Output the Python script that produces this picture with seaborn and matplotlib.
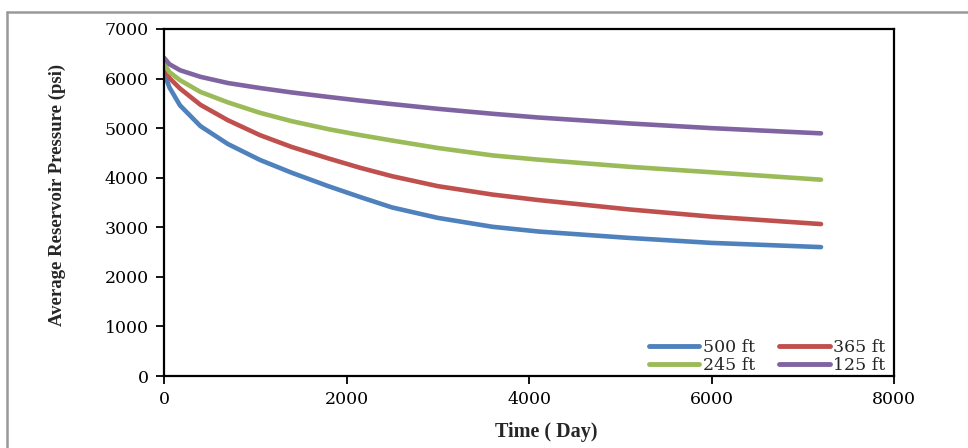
import matplotlib
matplotlib.use("Agg")
import matplotlib.pyplot as plt
from matplotlib.lines import Line2D
import seaborn as sns
import pandas as pd

days = [0, 60, 175, 400, 700, 1050, 1400, 1800, 2150, 2500, 3000, 3600, 4100, 5100, 6000, 7200]
p500 = [6120, 5820, 5460, 5040, 4680, 4360, 4100, 3830, 3610, 3400, 3190, 3010, 2915, 2785, 2685, 2600]
p365 = [6230, 6010, 5800, 5470, 5160, 4860, 4620, 4390, 4200, 4030, 3830, 3660, 3550, 3360, 3215, 3065]
p245 = [6300, 6130, 5968, 5730, 5520, 5310, 5140, 4980, 4860, 4750, 4600, 4450, 4365, 4220, 4110, 3960]
p125 = [6420, 6290, 6169, 6035, 5910, 5810, 5720, 5630, 5555, 5485, 5390, 5290, 5215, 5095, 5000, 4895]
labels = ["500 ft", "365 ft", "245 ft", "125 ft"]
colors = ["#4F81BD", "#C0504D", "#9BBB59", "#8064A2"]

rows = []
for lab, vals in zip(labels, [p500, p365, p245, p125]):
    for d, v in zip(days, vals):
        rows.append({"Time": d, "Pressure": v, "Series": lab})
df = pd.DataFrame(rows)

sns.set_style("ticks")
plt.rcParams["font.family"] = ["DejaVu Serif"]

fig = plt.figure(figsize=(9.68, 4.48), dpi=100)
ax = fig.add_axes([164/968, 1-376/448, (894-164)/968, (376-29)/448])

sns.lineplot(data=df, x="Time", y="Pressure", hue="Series", hue_order=labels,
             palette=colors, linewidth=3.3, ax=ax, legend=False)
for ln in ax.get_lines():
    ln.set_solid_joinstyle("round")
    ln.set_solid_capstyle("round")

ax.set_xlim(0, 8000)
ax.set_ylim(0, 7000)
ax.set_xticks([0, 2000, 4000, 6000, 8000])
ax.set_yticks(range(0, 7001, 1000))
ax.tick_params(axis="both", direction="out", length=6, width=1.3, labelsize=12.5,
               colors="black", pad=5)
for s in ax.spines.values():
    s.set_visible(True)
    s.set_linewidth(1.6)
    s.set_color("black")

ax.set_xlabel("")
ax.set_ylabel("")
fig.text(546/968, 1-432/448, "Time ( Day)", ha="center", va="center",
         fontsize=14.5, fontweight="bold", family="Liberation Serif")
fig.text(57/968, 1-195/448, "Average Reservoir Pressure (psi)", ha="center", va="center",
         rotation=90, fontsize=13.5, fontweight="bold", family="Liberation Serif")

handles = [Line2D([0], [0], color=c, lw=3.5) for c in colors]
order = [0, 2, 1, 3]
leg = ax.legend([handles[i] for i in order], [labels[i] for i in order], ncol=2,
                loc="lower right", bbox_to_anchor=(0.988, 0.005), frameon=False,
                fontsize=12.5, handlelength=2.9, handletextpad=0.2, columnspacing=1.4,
                labelspacing=0.05, borderpad=0.0, borderaxespad=0.0)

# outer gray frame
fig.add_artist(Line2D([7/968, 1.0], [1-12/448, 1-12/448], color="#999999", lw=1.8,
                      transform=fig.transFigure))
fig.add_artist(Line2D([7/968, 7/968], [0, 1-12/448], color="#999999", lw=1.8,
                      transform=fig.transFigure))

fig.savefig("out.png", dpi=100)
